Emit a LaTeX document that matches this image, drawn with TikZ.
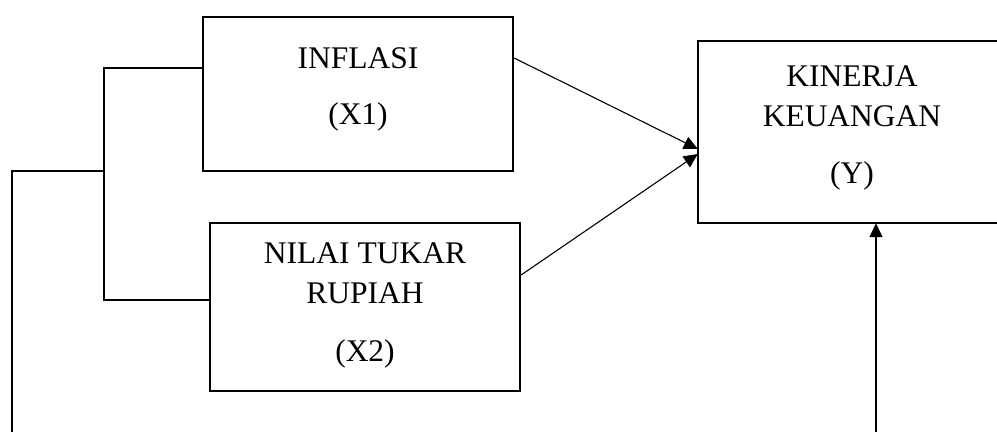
\documentclass[tikz,border=0pt]{standalone}
\usepackage{fontspec}
\setmainfont{Liberation Serif}
\usetikzlibrary{arrows.meta}
\begin{document}
\begin{tikzpicture}[x=1pt,y=-1pt,
  box/.style={draw, line width=2.2pt, rectangle, inner sep=0pt},
  openbox/.style={draw=none, rectangle, inner sep=0pt},
  boxline/.style={line width=2.2pt},
  lbl/.style={anchor=base, inner sep=0pt, font=\fontsize{31.5}{38}\selectfont},
  conn/.style={line width=1.1pt},
  arr/.style={line width=1.1pt, -{Triangle[length=14pt,width=13pt]}}]
\useasboundingbox (0,0) rectangle (997,432);
\fill[white] (0,0) rectangle (997,432);
% boxes
\node[box, minimum width=310pt, minimum height=154pt] (x1) at (358,94) {};
\node[box, minimum width=310pt, minimum height=168pt] (x2) at (365,307) {};
\node[openbox, minimum width=299pt, minimum height=182pt] (y) at (847.5,132) {};
\draw[boxline] (y.north east) -- (y.north west) -- (y.south west) -- (y.south east);
% labels
\node[lbl] (t1a) at (358,68) {INFLASI};
\node[lbl] (t1b) at (358,124) {(X1)};
\node[lbl] (t2a) at (365,263) {NILAI TUKAR};
\node[lbl] (t2b) at (365,303) {RUPIAH};
\node[lbl] (t2c) at (365,361) {(X2)};
\node[lbl] (tya) at (852,86) {KINERJA};
\node[lbl] (tyb) at (852,126) {KEUANGAN};
\node[lbl] (tyc) at (852,183) {(Y)};
% bracket
\coordinate (b1) at (104,68);
\coordinate (b2) at (104,300);
\coordinate (bm) at (104,171);
\coordinate (l1) at (12,171);
\coordinate (l0) at (12,432);
\coordinate (v0) at (876,432);
\draw[conn] (x1.west |- b1) -- (b1) -- (b2) -- (x2.west |- b2);
\draw[conn] (l0) -- (l1) -- (bm);
% arrows
\coordinate (s1) at (513,58);
\coordinate (s2) at (520,275);
\coordinate (e1) at (699,149);
\coordinate (e2) at (698,154);
\draw[arr] (x1.east |- s1) -- (y.west |- e1);
\draw[arr] (x2.east |- s2) -- (y.west |- e2);
\draw[arr] (v0) -- (y.south -| v0);
\end{tikzpicture}
\end{document}
